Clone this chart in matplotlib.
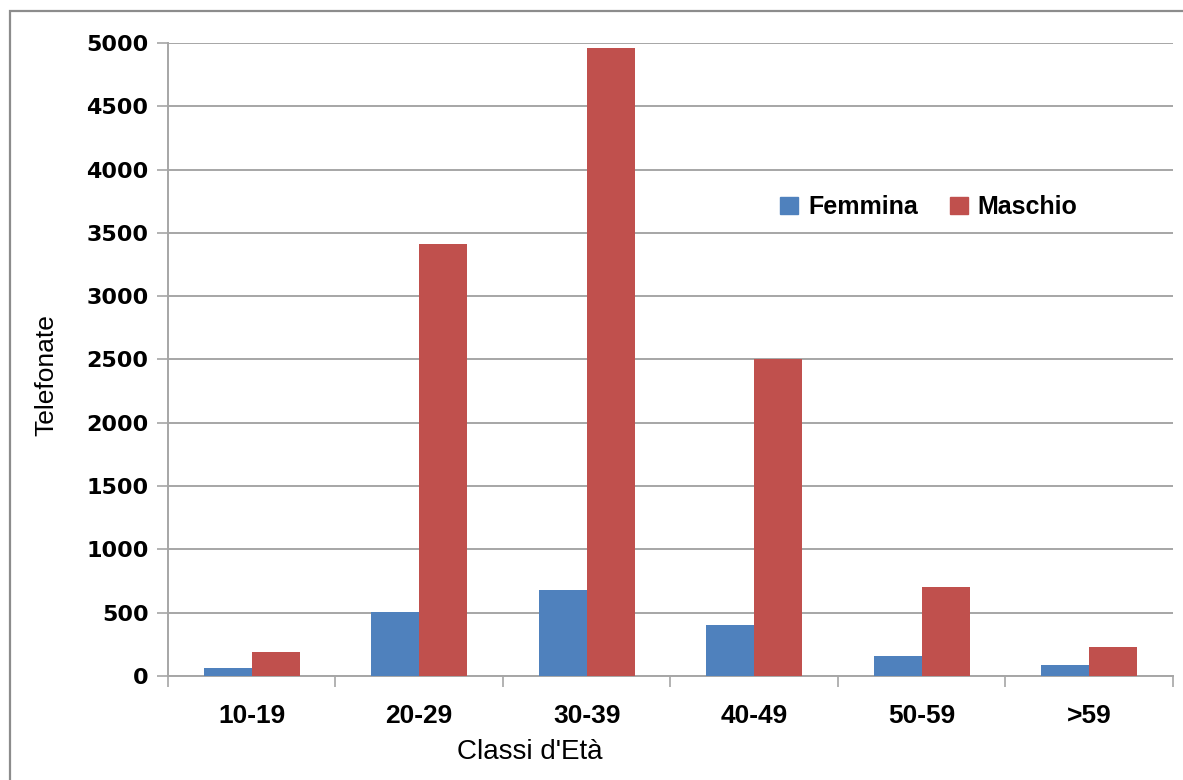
import matplotlib
matplotlib.use("Agg")
import matplotlib.pyplot as plt
from matplotlib.patches import Patch, Rectangle
import numpy as np

# Calls by age class and sex
age_classes = ["10-19", "20-29", "30-39", "40-49", "50-59", ">59"]
femmina = [65, 505, 680, 400, 156, 85]
maschio = [190, 3410, 4960, 2505, 705, 228]
y_ticks = [0, 500, 1000, 1500, 2000, 2500, 3000, 3500, 4000, 4500, 5000]

BLUE = "#4F81BD"
RED = "#C0504D"
GRID = "#A6A6A6"

W, H = 1183, 780
fig = plt.figure(figsize=(W / 100, H / 100), dpi=100)
fig.patch.set_facecolor("white")

# chart-area frame (runs off the right and bottom edges)
fig.patches.append(Rectangle((10 / W, -0.05), 1.2, (H - 11) / H + 0.05,
                             transform=fig.transFigure, fill=False,
                             edgecolor="#8C8C8C", linewidth=1.6))

left, right, top, bottom = 168, 1173, 43, 676
ax = fig.add_axes([left / W, (H - bottom) / H, (right - left) / W, (bottom - top) / H])

x = np.arange(len(age_classes))
bw = 1 / 3.5
ax.bar(x - bw / 2, femmina, width=bw, color=BLUE, label="Femmina", zorder=3)
ax.bar(x + bw / 2, maschio, width=bw, color=RED, label="Maschio", zorder=3)

ax.set_xlim(-0.5, len(age_classes) - 0.5)
ax.set_ylim(0, 5000)
ax.set_yticks(y_ticks)
ax.set_yticklabels([str(v) for v in y_ticks],
                   fontdict=dict(family="DejaVu Sans", weight="bold", size=16))
ax.yaxis.grid(True, color=GRID, linewidth=1.4, zorder=0)
ax.set_axisbelow(True)

ax.set_xticks(x)
ax.set_xticklabels(age_classes)
for lbl in ax.get_xticklabels():
    lbl.set_fontfamily("Liberation Sans")
    lbl.set_fontweight("bold")
    lbl.set_fontsize(19)
ax.set_xticks(np.arange(len(age_classes) + 1) - 0.5, minor=True)
ax.tick_params(axis="x", which="major", length=0, pad=20)
ax.tick_params(axis="x", which="minor", length=8, width=1.2, color=GRID, direction="out")
ax.tick_params(axis="y", length=8, width=1.2, color=GRID, pad=6)

for s in ["top", "right"]:
    ax.spines[s].set_visible(False)
for s in ["left", "bottom"]:
    ax.spines[s].set_color(GRID)
    ax.spines[s].set_linewidth(1.4)

fig.text(46 / W, 1 - 375 / H, "Telefonate", rotation=90, ha="center", va="center",
         fontfamily="Liberation Sans", fontsize=19)
fig.text(530 / W, 1 - 752 / H, "Classi d'Età", ha="center", va="center",
         fontfamily="Liberation Sans", fontsize=20)

handles = [Patch(color=BLUE, label="Femmina"), Patch(color=RED, label="Maschio")]
fig.legend(handles=handles, loc="center", bbox_to_anchor=(929 / W, 1 - 207 / H),
           ncol=2, frameon=False, handlelength=0.7, handleheight=0.7,
           handletextpad=0.4, columnspacing=1.3,
           prop=dict(family="Liberation Sans", weight="bold", size=18))

fig.savefig("out.png", dpi=100, facecolor="white")
